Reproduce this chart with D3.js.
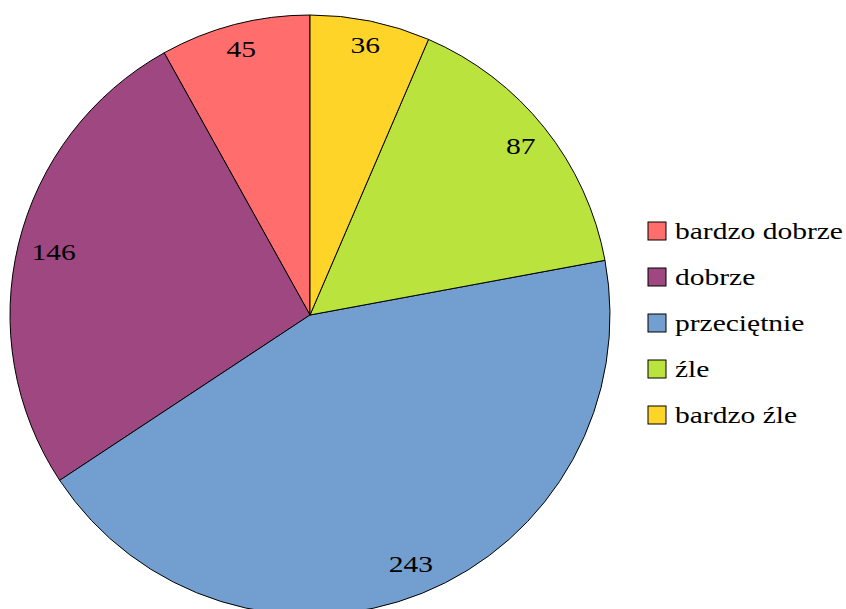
<!DOCTYPE html>
<html><head><meta charset="utf-8">
<script src="https://cdn.jsdelivr.net/npm/d3@7"></script>
<style>body{margin:0;background:#fff;}svg{display:block;}</style>
</head><body>
<svg id="c" width="846" height="609"></svg>
<script>
const categories = ["bardzo dobrze", "dobrze", "przeciętnie", "źle", "bardzo źle"];
const values = [45, 146, 243, 87, 36];
const colors = ["#FF6D6D", "#9E4780", "#729FCF", "#BBE33D", "#FFD428"];

const svg = d3.select("#c");
const cx = 310, cy = 315, r = 300;
const fs = 24, sx = 1.23;
const fontFamily = '"Liberation Serif"';

const data = categories.map((c, i) => ({cat: c, value: values[i], color: colors[i]}));
// counterclockwise from 12 o'clock
const pie = d3.pie().value(d => d.value).sort(null).startAngle(0).endAngle(-2 * Math.PI);
const arcs = pie(data);
const arc = d3.arc().innerRadius(0).outerRadius(r);

const g = svg.append("g").attr("transform", `translate(${cx},${cy})`);
g.selectAll("path").data(arcs).enter().append("path")
  .attr("d", arc).attr("fill", d => d.data.color)
  .attr("stroke", "#000").attr("stroke-width", 1);

const limit = r * 0.96;
g.selectAll("text").data(arcs).enter().append("text")
  .attr("text-anchor", "middle").attr("dy", "0.3em")
  .style("font-family", fontFamily).style("font-size", fs + "px")
  .text(d => d.data.value)
  .each(function(d) {
    const bb = this.getBBox();
    const w = bb.width * sx, h = fs * 0.9;
    const a = (d.startAngle + d.endAngle) / 2;
    const s = Math.sin(a), c = Math.cos(a);
    const rr = limit - (w / 2 * Math.abs(s) + h / 2 * Math.abs(c));
    d3.select(this).attr("transform", `translate(${rr * s},${-rr * c}) scale(${sx},1)`);
  });

const lg = svg.append("g");
const rows = lg.selectAll("g").data(data).enter().append("g")
  .attr("transform", (d, i) => `translate(648,${222 + i * 46})`);
rows.append("rect").attr("width", 18).attr("height", 18)
  .attr("fill", d => d.color).attr("stroke", "#000").attr("stroke-width", 1);
rows.append("text").attr("transform", `translate(27,17) scale(${sx},1)`)
  .style("font-family", fontFamily).style("font-size", fs + "px")
  .text(d => d.cat);
</script>
</body></html>
